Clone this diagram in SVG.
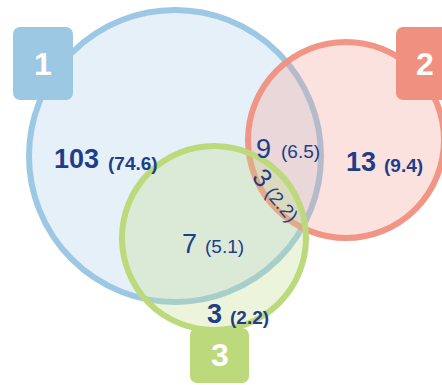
<svg xmlns="http://www.w3.org/2000/svg" width="442" height="385" viewBox="0 0 442 385">
<style>
.c{stroke-width:6}
.c1{fill:#a8cde8;fill-opacity:0.3;stroke:#9cc8e4}
.c2{fill:#f29e91;fill-opacity:0.3;stroke:#f09080;stroke-opacity:0.95}
.c3{fill:#c0de8a;fill-opacity:0.3;stroke:#bcd97c}
.big{font-family:"Liberation Sans",Arial,sans-serif;font-size:27px;fill:#1f3d8a}
.sm{font-family:"Liberation Sans",Arial,sans-serif;font-size:19px;fill:#1f3d8a}
.b{font-weight:bold}
.lbl{font-family:"Liberation Sans",Arial,sans-serif;font-size:32px;font-weight:bold;fill:#ffffff;text-anchor:middle}
</style>
<rect width="442" height="385" fill="#ffffff"/>
<g id="set1"><circle class="c c1" cx="175" cy="156" r="146"/></g>
<g id="set2"><circle class="c c2" cx="346" cy="140" r="98"/></g>
<g id="set3"><circle class="c c3" cx="214" cy="238" r="92"/></g>
<g id="label1"><rect x="13" y="27" width="60" height="73" rx="7" fill="#9cc8e4"/><text class="lbl" x="43" y="75">1</text></g>
<g id="label2"><rect x="396" y="27" width="60" height="73" rx="7" fill="#f09080"/><text class="lbl" x="425" y="75">2</text></g>
<g id="label3"><rect x="190" y="328" width="59" height="55" rx="7" fill="#bcd97c"/><text class="lbl" x="220" y="366">3</text></g>
<g id="counts">
<text class="big b" x="54" y="168">103</text><text class="sm b" x="108" y="170">(74.6)</text>
<text class="big b" x="346" y="171">13</text><text class="sm b" x="384" y="172">(9.4)</text>
<text class="big" x="256" y="158">9</text><text class="sm" x="281" y="158">(6.5)</text>
<text class="big" x="182" y="253">7</text><text class="sm" x="205" y="253">(5.1)</text>
<text class="big b" x="207" y="323">3</text><text class="sm b" x="230" y="324">(2.2)</text>
<text transform="translate(251,178) rotate(50)"><tspan class="big" style="font-size:26px">3</tspan><tspan class="sm" style="font-size:19px" dx="6">(2.2)</tspan></text>
</g>
</svg>
